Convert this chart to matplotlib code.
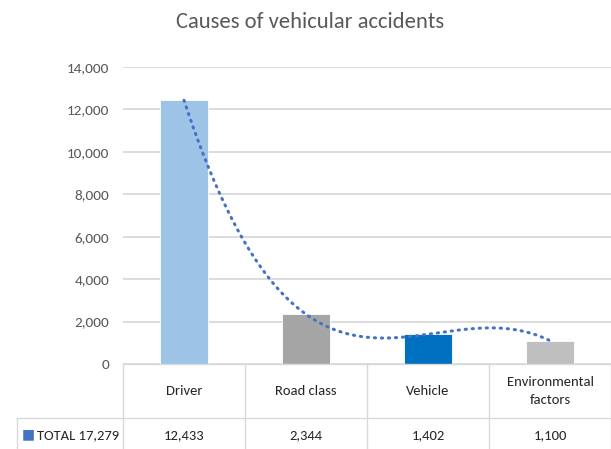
import numpy as np
import matplotlib
matplotlib.use("Agg")
import matplotlib.pyplot as plt
from matplotlib.transforms import blended_transform_factory

plt.rcParams['font.family'] = ['Carlito', 'Liberation Sans Narrow', 'Roboto Condensed', 'DejaVu Sans']

categories = ['Driver', 'Road class', 'Vehicle', 'Environmental\nfactors']
values = [12433, 2344, 1402, 1100]
bar_colors = ['#9DC3E6', '#A5A5A5', '#0070C0', '#BFBFBF']
yticks = [0, 2000, 4000, 6000, 8000, 10000, 12000, 14000]
title = 'Causes of vehicular accidents'
series_name = 'TOTAL'

W, H = 611, 449
fig = plt.figure(figsize=(W/100, H/100), dpi=100)
ax = fig.add_axes([123/W, 85/H, 488/W, 297/H])

x = np.arange(len(values))
ax.bar(x, values, width=0.4, color=bar_colors, edgecolor='white', linewidth=0.6, zorder=2)

# cubic trendline through the bars
coef = np.polyfit(x, values, 3)
xs = np.linspace(x[0], x[-1], 300)
ax.plot(xs, np.polyval(coef, xs), color='#4472C4', lw=2.2, linestyle=(0, (0.4, 1.9)),
        dash_capstyle='round', zorder=3)

ax.set_xlim(-0.5, 3.5)
ax.set_ylim(0, 14000)
ax.set_yticks(yticks)
ax.set_yticklabels([f'{v:,}' for v in yticks], fontsize=11, color='#595959')
ax.tick_params(axis='y', length=0, pad=10)
ax.set_xticks([])
ax.grid(axis='y', color='#D9D9D9', lw=1.3, zorder=0)
for s in ax.spines.values():
    s.set_visible(False)

# data table under the axis
tr = blended_transform_factory(ax.transData, ax.transAxes)
def py(p):  # pixel row -> axes fraction
    return (364 - p) / 297
grid_kw = dict(color='#D9D9D9', lw=1.0, transform=tr, clip_on=False)
lab_left = -0.5 - 106/122
ax.plot([-0.5, 3.5], [py(364), py(364)], **grid_kw)
ax.plot([lab_left, 3.5], [py(418), py(418)], **grid_kw)
ax.plot([lab_left, 3.5], [py(450), py(450)], **grid_kw)
for b in np.arange(len(values) + 1) - 0.5:
    ax.plot([b, b], [py(364), py(450)], **grid_kw)
ax.plot([lab_left, lab_left], [py(418), py(450)], **grid_kw)

for i, (c, v) in enumerate(zip(categories, values)):
    ax.text(i, py(391), c, transform=tr, ha='center', va='center', fontsize=10.5,
            color='#262626', linespacing=1.7)
    ax.text(i, py(435), f'{v:,}', transform=tr, ha='center', va='center', fontsize=10.5,
            color='#262626')
total = sum(values)
ax.text(-0.53, py(435), f'{series_name} {total:,}', transform=tr, ha='right', va='center',
        fontsize=10.5, color='#262626')
ax.text(lab_left + 0.094, py(434), '\u25A0', transform=tr, color='#4472C4',
        fontsize=10, ha='center', va='center', family='DejaVu Sans')

fig.text(0.507, 0.952, title, ha='center', va='center', fontsize=16.2, color='#595959')

fig.savefig('out.png', dpi=100)
